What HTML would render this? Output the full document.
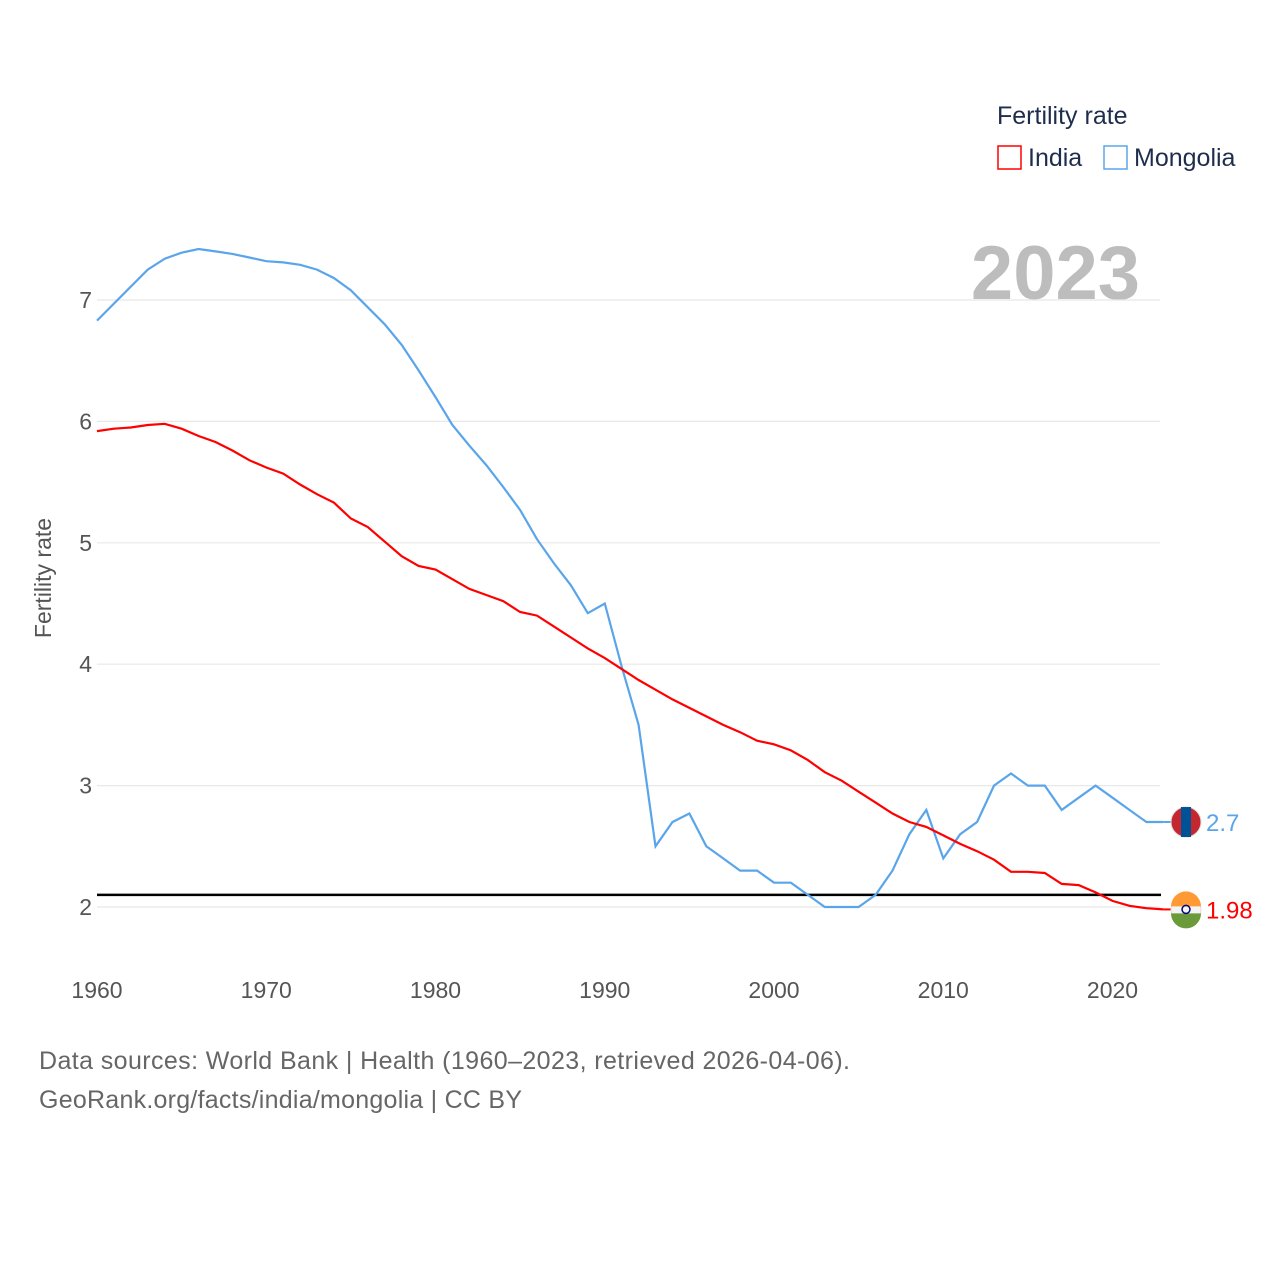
<!DOCTYPE html>
<html><head><meta charset="utf-8"><style>
body{margin:0;background:#fff;font-family:"Liberation Sans",sans-serif}
svg text{font-family:"Liberation Sans",sans-serif}
</style></head><body>
<svg id="c" width="1280" height="1280">
<text x="997" y="124" font-size="25" fill="#1f2d4d">Fertility rate</text>
<g><rect x="998" y="146" width="23" height="23" fill="none" stroke="#ff0000" stroke-width="1.5"/><text x="1028" y="166" font-size="25" fill="#1f2d4d">India</text></g>
<g><rect x="1104" y="146" width="23" height="23" fill="none" stroke="#5aa5ea" stroke-width="1.5"/><text x="1134" y="166" font-size="25" fill="#1f2d4d">Mongolia</text></g>
<text x="1140" y="299" font-size="76" font-weight="bold" fill="#bdbdbd" text-anchor="end">2023</text>
<text transform="translate(51,578) rotate(-90)" font-size="23" fill="#555" text-anchor="middle">Fertility rate</text>
<g id="grid"></g><g id="lines"></g>
<text x="39" y="1069" font-size="25" fill="#666" textLength="811">Data sources: World Bank | Health (1960–2023, retrieved 2026-04-06).</text>
<text x="39" y="1108" font-size="25" fill="#666" textLength="483">GeoRank.org/facts/india/mongolia | CC BY</text>
</svg>
<script>
const years=[];for(let y=1960;y<=2023;y++)years.push(y);
const india=[5.92,5.94,5.95,5.97,5.98,5.94,5.88,5.83,5.76,5.68,5.62,5.57,5.48,5.40,5.33,5.20,5.13,5.01,4.89,4.81,4.78,4.70,4.62,4.57,4.52,4.43,4.40,4.31,4.22,4.13,4.05,3.96,3.87,3.79,3.71,3.64,3.57,3.50,3.44,3.37,3.34,3.29,3.21,3.11,3.04,2.95,2.86,2.77,2.70,2.66,2.59,2.52,2.46,2.39,2.29,2.29,2.28,2.19,2.18,2.12,2.05,2.01,1.99,1.98];
const mongolia=[6.83,6.97,7.11,7.25,7.34,7.39,7.42,7.40,7.38,7.35,7.32,7.31,7.29,7.25,7.18,7.08,6.94,6.80,6.63,6.42,6.20,5.97,5.80,5.64,5.46,5.27,5.03,4.83,4.65,4.42,4.50,3.98,3.50,2.50,2.70,2.77,2.50,2.40,2.30,2.30,2.20,2.20,2.10,2.00,2.00,2.00,2.10,2.30,2.60,2.80,2.40,2.60,2.70,3.00,3.10,3.00,3.00,2.80,2.90,3.00,2.90,2.80,2.70,2.70];
const yTicks=[2,3,4,5,6,7];
const xTicks=[1960,1970,1980,1990,2000,2010,2020];
const replacement=2.1;
const NS='http://www.w3.org/2000/svg';
const X=y=>97+(y-1960)*16.925;
const Y=v=>907-(v-2)*121.4;
const grid=document.getElementById('grid'),lines=document.getElementById('lines');
function mk(tag,at,par){const e=document.createElementNS(NS,tag);for(const k in at)e.setAttribute(k,at[k]);par.appendChild(e);return e;}
yTicks.forEach(v=>{
 const l=mk('line',{x1:97,x2:1160,y1:Y(v),y2:Y(v),stroke:'#e8e8e8','stroke-width':1.2},grid);
 
 
 const t=mk('text',{x:92,y:Y(v)+8,'font-size':23,fill:'#555','text-anchor':'end'},grid);t.textContent=v;
 
 
});
xTicks.forEach(v=>{
 const t=mk('text',{x:X(v),y:998,'font-size':23,fill:'#555','text-anchor':'middle'},grid);t.textContent=v;
 
 
});
const rl=mk('line',{x1:97,x2:1161,y1:Y(replacement),y2:Y(replacement),stroke:'#000','stroke-width':2.5},lines);


function series(arr,col,name){
 const p=mk('path',{d:arr.map((v,i)=>(i?'L':'M')+X(years[i]).toFixed(1)+','+Y(v).toFixed(1)).join(''),fill:'none',stroke:col,'stroke-width':2.2},lines);
 
 
 const last=arr[arr.length-1],ly=Y(last);
 const lx=X(years[years.length-1]);
 mk('line',{x1:lx,x2:1172,y1:ly,y2:ly,stroke:col,'stroke-width':2},lines);
 const f=mk('circle',{cx:1186,cy:ly,r:15,fill:name==='india'?'#f4f4f4':'#c4272f',stroke:'#ddd'},lines);
 
 
 if(name==='india'){mk('path',{d:`M1171,${ly-3}A15,15 0 0 1 1201,${ly-3}Z`,fill:'#ff9933'},lines);mk('path',{d:`M1171,${ly+4}A15,15 0 0 0 1201,${ly+4}Z`,fill:'#6a9a3a'},lines);mk('circle',{cx:1186,cy:ly,r:4,fill:'none',stroke:'#000080','stroke-width':1.5},lines);}
 else{mk('rect',{x:1181,y:ly-15,width:10,height:30,fill:'#015197'},lines);}
 const t=mk('text',{x:1206,y:ly+9,'font-size':24,fill:col},lines);t.textContent=last;
 
 
}
series(mongolia,'#5aa5ea','mongolia');
series(india,'#ff0000','india');
</script>
</body></html>
